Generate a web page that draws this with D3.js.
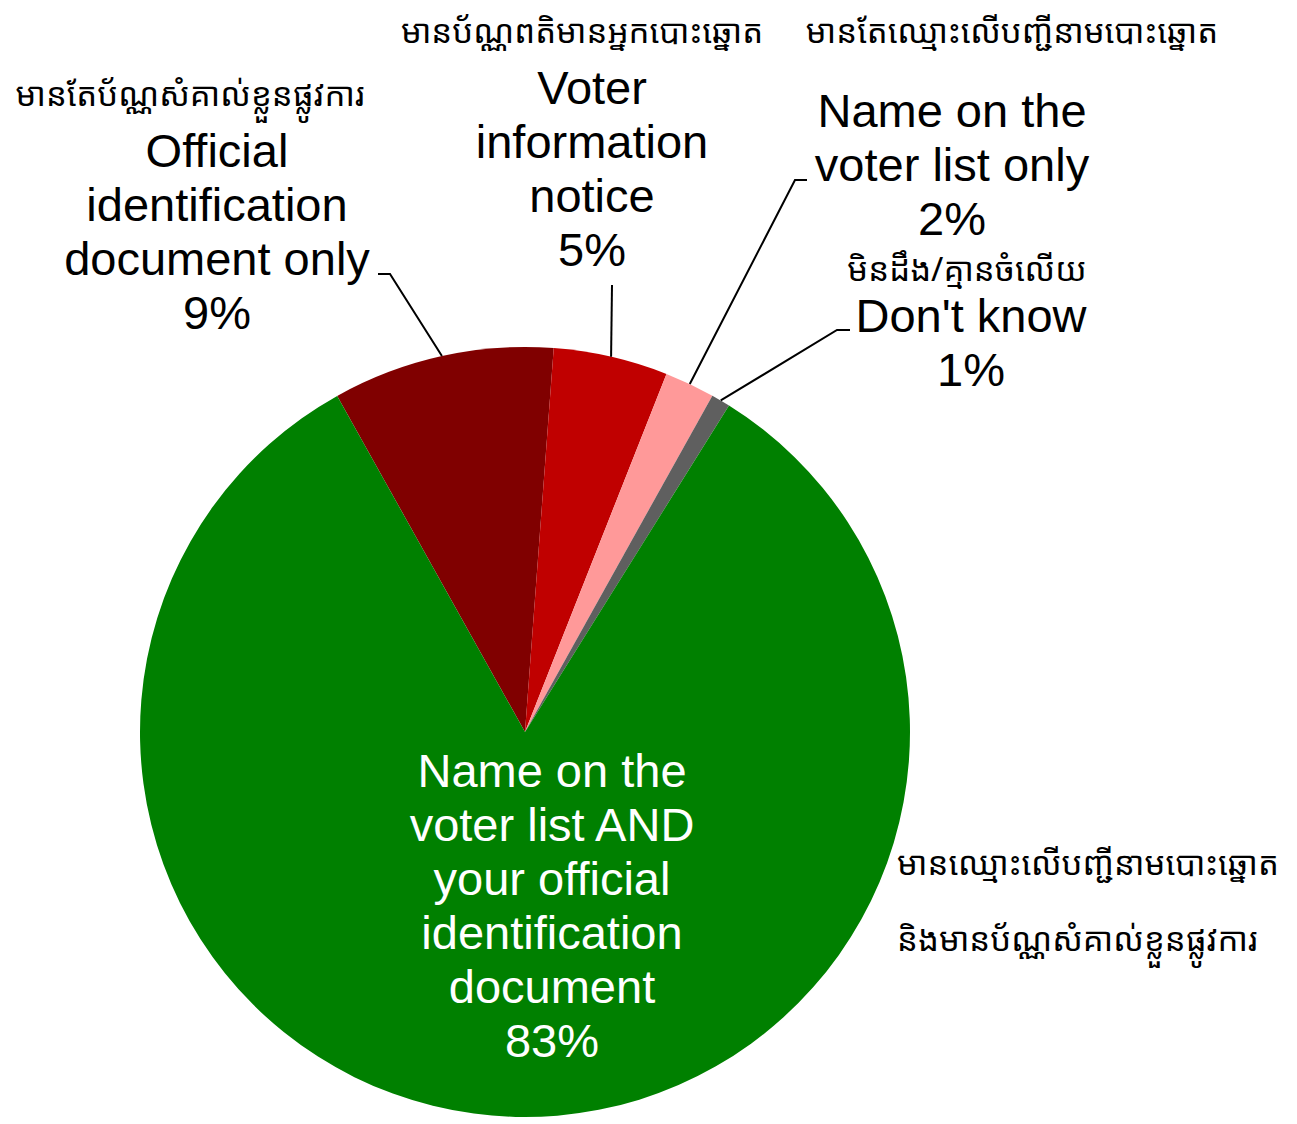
<!DOCTYPE html>
<html>
<head>
<meta charset="utf-8">
<script src="https://cdn.jsdelivr.net/npm/d3@7"></script>
<style>
  html, body { margin: 0; padding: 0; background: #fff; }
  svg { display: block; }
</style>
</head>
<body>
<svg id="chart" width="1297" height="1124"></svg>
<script>
// ---- data ----
const categories = ["Official identification document only", "Voter information notice", "Name on the voter list only", "Don't know", "Name on the voter list AND your official identification document"];
const values = [9.3, 4.8, 2.1, 0.8, 83.0];
const percentLabels = ["9%", "5%", "2%", "1%", "83%"];
const englishLines = [
  ["Official", "identification", "document only"],
  ["Voter", "information", "notice"],
  ["Name on the", "voter list only"],
  ["Don't know"],
  ["Name on the", "voter list AND", "your official", "identification", "document"]
];
const khmerLines = [
  ["មានតែប័ណ្ណសំគាល់ខ្លួនផ្លូវការ"],
  ["មានប័ណ្ណពតិមានអ្នកបោះឆ្នោត"],
  ["មានតែឈ្មោះលើបញ្ជីនាមបោះឆ្នោត"],
  ["មិនដឹង/គ្មានចំលើយ"],
  ["មានឈ្មោះលើបញ្ជីនាមបោះឆ្នោត", "និងមានប័ណ្ណសំគាល់ខ្លួនផ្លូវការ"]
];
const colors = ["#800000", "#C00000", "#FF9999", "#5F5F5F", "#008000"];

// ---- layout ----
const W = 1297, H = 1124;
const cx = 525, cy = 732, R = 385;
const startDeg = -29.2;
const latin = "'Liberation Sans', Arial, sans-serif";
const khmerFont = "'Khmer OS', 'Noto Sans Khmer', 'Noto Serif Khmer', 'Khmer OS System', sans-serif";
const fs = 47, lh = 54, kfs = 33;

// label layout: english block center x, first line center y, khmer center x/y, leader elbow
const labelLayout = [
  { ex: 217, ey: 150, kx: 190, ky: 93, kAnchor: "middle", elbow: [390, 274], end: [378, 274], fill: "#000" },
  { ex: 592, ey: 87, kx: 582, ky: 30, kAnchor: "middle", elbow: [612, 285], end: null, fill: "#000" },
  { ex: 952, ey: 110, kx: 1012, ky: 30, kAnchor: "middle", elbow: [795, 180], end: [807, 180], fill: "#000" },
  { ex: 971, ey: 315, kx: 967, ky: 268, kAnchor: "middle", elbow: [837, 330], end: [850, 330], fill: "#000" },
  { ex: 552, ey: 770, kx: 897, ky: 862, kAnchor: "start", kLh: 76, elbow: null, end: null, fill: "#fff" }
];

const svg = d3.select("#chart");
const g = svg.append("g").attr("transform", `translate(${cx},${cy})`);

const pie = d3.pie().sort(null).value(d => d)
  .startAngle(startDeg * Math.PI / 180)
  .endAngle(startDeg * Math.PI / 180 + 2 * Math.PI);
const arcs = pie(values);
const arc = d3.arc().innerRadius(0).outerRadius(R);

g.selectAll("path.slice").data(arcs).enter().append("path")
  .attr("class", "slice")
  .attr("d", arc)
  .attr("fill", (d, i) => colors[i]);

// leader lines
arcs.forEach((a, i) => {
  const L = labelLayout[i];
  if (!L.elbow) return;
  const mid = (a.startAngle + a.endAngle) / 2;
  const p0 = [cx + R * Math.sin(mid), cy - R * Math.cos(mid)];
  const pts = [p0, L.elbow];
  if (L.end) pts.push(L.end);
  svg.append("path")
    .attr("d", d3.line()(pts))
    .attr("fill", "none")
    .attr("stroke", "#000")
    .attr("stroke-width", 2);
});

// labels
arcs.forEach((a, i) => {
  const L = labelLayout[i];
  const lines = englishLines[i].concat([percentLabels[i]]);
  lines.forEach((t, j) => {
    svg.append("text")
      .attr("x", L.ex).attr("y", L.ey + j * lh)
      .attr("text-anchor", "middle")
      .attr("dominant-baseline", "central")
      .attr("font-family", latin)
      .attr("font-size", fs)
      .attr("fill", L.fill)
      .text(t);
  });
  khmerLines[i].forEach((t, j) => {
    svg.append("text")
      .attr("x", L.kx).attr("y", L.ky + j * (L.kLh || 40))
      .attr("text-anchor", L.kAnchor)
      .attr("dominant-baseline", "central")
      .attr("font-family", khmerFont)
      .attr("font-size", kfs)
      .attr("fill", "#000")
      .text(t);
  });
});
</script>
</body>
</html>
